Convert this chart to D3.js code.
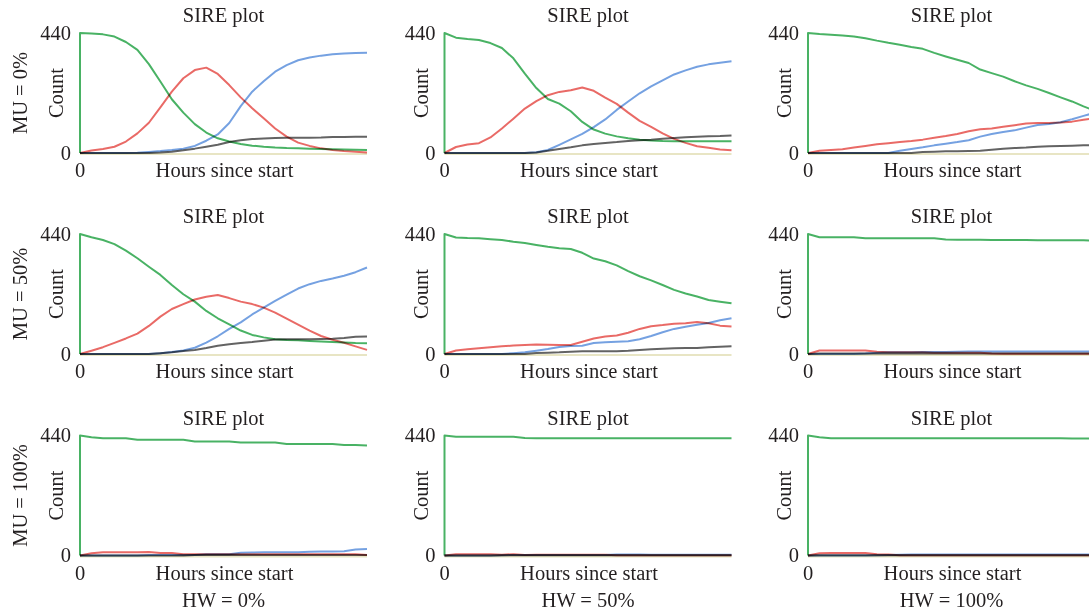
<!DOCTYPE html>
<html>
<head>
<meta charset="utf-8">
<script src="https://cdn.jsdelivr.net/npm/d3@7/dist/d3.min.js"></script>
<style>
  html, body { margin: 0; padding: 0; background: #ffffff; overflow: hidden; }
  svg { display: block; }
  text { font-family: "Liberation Serif", "DejaVu Serif", serif; fill: #231f20; }
  .pen { mix-blend-mode: multiply; }
</style>
</head>
<body>
<svg id="chart" width="1089" height="614"></svg>
<script>
// ---------- data ----------
const hours = [0,4,8,12,16,20,24,28,32,36,40,44,48,52,56,60,64,68,72,76,80,84,88,92,96,100];
const muLabels = ["MU = 0%", "MU = 50%", "MU = 100%"];
const hwLabels = ["HW = 0%", "HW = 50%", "HW = 100%"];
const yTickValues = [0, 440];
const xTickValues = [0];
const seriesNames = ["E", "R", "I", "S"];
const seriesColors = { S: "#3fae5c", I: "#e8625e", R: "#6d9ce0", E: "#5a5a5a" };

// MU = 0%
const S_mu0_hw0 = [440,438,435,427,407,378,326,262,197,148,106,75,54,42,33,27,23,20,18,17,16,15,14,13,12,11];
const I_mu0_hw0 = [0,9,15,23,42,72,111,167,225,274,304,313,290,249,204,164,127,90,60,38,26,17,11,7,5,2];
const R_mu0_hw0 = [0,0,0,0,0,1,4,7,11,16,26,45,68,110,172,225,263,298,322,340,350,357,362,365,367,368];
const E_mu0_hw0 = [0,0,0,0,0,0,0,2,5,10,16,23,30,40,47,51,53,55,56,56,56,57,59,59,60,60];

const S_mu0_hw50 = [440,423,418,414,403,385,347,291,238,198,181,153,114,86,71,61,54,49,46,44,43,43,43,43,43,43];
const I_mu0_hw50 = [0,22,31,36,57,90,126,163,190,212,224,230,240,228,203,180,148,118,96,72,52,37,25,19,13,10];
const R_mu0_hw50 = [0,0,0,0,0,0,0,0,3,11,30,50,70,95,123,158,189,219,244,266,288,303,316,325,331,336];
const E_mu0_hw50 = [0,0,0,0,0,0,0,0,2,8,15,21,28,33,37,40,44,47,49,52,55,58,60,61,62,64];

const S_mu0_hw100 = [440,436,434,431,427,421,412,404,397,389,382,367,354,342,330,306,293,280,263,248,235,220,204,189,171,155];
const I_mu0_hw100 = [0,8,11,14,20,26,32,36,40,44,49,56,62,70,80,87,90,96,102,108,110,110,112,115,122,128];
const R_mu0_hw100 = [0,0,0,0,0,0,0,0,8,15,21,28,34,40,47,60,70,77,83,93,103,106,113,124,136,148];
const E_mu0_hw100 = [0,0,0,0,0,0,0,0,0,0,4,5,6,6,7,8,12,16,18,20,23,25,26,27,28,28];

// MU = 50%
const S_mu50_hw0 = [440,428,418,403,379,351,320,290,253,219,192,158,131,109,86,70,61,54,51,50,48,46,44,42,40,39];
const I_mu50_hw0 = [0,12,25,41,57,75,103,137,165,183,200,210,216,205,192,183,170,152,130,108,86,66,52,41,28,15];
const R_mu50_hw0 = [0,0,0,0,0,0,0,3,7,13,23,42,65,92,116,145,170,195,218,240,256,268,277,287,300,317];
const E_mu50_hw0 = [0,0,0,0,0,0,0,3,6,11,15,22,30,36,40,44,49,53,54,54,54,55,56,59,63,64];

const S_mu50_hw50 = [440,427,425,424,421,418,412,407,400,393,388,385,371,350,340,325,304,285,270,253,235,222,211,198,192,186];
const I_mu50_hw50 = [0,13,17,21,25,28,31,33,35,34,33,33,45,57,64,68,78,92,102,106,111,113,117,113,104,101];
const R_mu50_hw50 = [0,0,0,0,0,0,3,6,12,18,26,29,30,40,43,45,47,54,66,80,92,100,107,114,124,131];
const E_mu50_hw50 = [0,0,0,0,0,0,0,0,4,5,6,8,10,10,10,10,12,15,17,19,21,22,22,25,27,28];

const S_mu50_hw100 = [440,428,428,428,428,424,424,424,424,424,424,424,420,419,419,419,418,418,418,418,417,417,417,417,417,416];
const I_mu50_hw100 = [0,13,13,13,13,13,8,6,6,6,6,5,5,5,5,5,2,1,1,1,1,1,1,1,1,1];
const R_mu50_hw100 = [0,0,0,0,0,2,5,6,6,6,7,7,7,8,9,9,9,9,9,9,9,9,9,9,9,9];
const E_mu50_hw100 = [0,2,2,2,2,2,2,2,2,2,2,2,2,2,2,2,2,2,2,2,2,2,2,2,2,2];

// MU = 100%
const S_mu100_hw0 = [440,434,430,430,430,424,424,424,424,424,418,418,418,418,414,414,414,414,409,409,409,409,409,405,405,403];
const I_mu100_hw0 = [0,8,12,12,12,12,13,9,9,5,5,5,5,5,5,5,5,5,5,5,5,5,5,5,5,2];
const R_mu100_hw0 = [0,0,0,0,0,0,2,2,2,2,2,5,5,5,10,11,12,12,12,12,14,15,15,16,22,24];
const E_mu100_hw0 = [0,0,0,0,0,0,0,0,0,0,2,2,2,2,2,2,2,2,2,2,2,2,2,2,2,2];

const S_mu100_hw50 = [440,435,435,435,435,435,435,431,430,430,430,430,430,430,430,430,430,430,430,430,430,430,430,430,430,430];
const I_mu100_hw50 = [0,5,5,5,5,3,5,2,3,3,3,3,3,3,3,1,1,1,1,1,1,1,1,1,1,1];
const R_mu100_hw50 = [0,0,0,0,0,1,2,2,2,2,2,2,2,2,2,4,4,4,3,3,3,3,3,3,3,3];
const E_mu100_hw50 = [0,0,0,0,0,1,1,1,1,1,1,1,1,1,1,1,1,1,1,1,1,1,1,1,1,1];

const S_mu100_hw100 = [440,434,430,430,430,430,430,430,430,430,430,430,430,430,430,430,430,430,430,430,430,430,430,429,429,429];
const I_mu100_hw100 = [0,8,9,9,9,9,5,4,1,1,1,1,1,1,1,1,1,1,1,1,1,1,1,1,1,1];
const R_mu100_hw100 = [0,0,0,0,0,0,1,2,3,4,4,4,4,4,4,4,4,4,4,4,4,4,4,4,4,4];
const E_mu100_hw100 = [0,1,1,1,1,1,1,1,1,1,1,1,1,1,1,1,1,1,1,1,1,1,1,1,1,1];

const panels = [
  [ {S:S_mu0_hw0, I:I_mu0_hw0, R:R_mu0_hw0, E:E_mu0_hw0},
    {S:S_mu0_hw50, I:I_mu0_hw50, R:R_mu0_hw50, E:E_mu0_hw50},
    {S:S_mu0_hw100, I:I_mu0_hw100, R:R_mu0_hw100, E:E_mu0_hw100} ],
  [ {S:S_mu50_hw0, I:I_mu50_hw0, R:R_mu50_hw0, E:E_mu50_hw0},
    {S:S_mu50_hw50, I:I_mu50_hw50, R:R_mu50_hw50, E:E_mu50_hw50},
    {S:S_mu50_hw100, I:I_mu50_hw100, R:R_mu50_hw100, E:E_mu50_hw100} ],
  [ {S:S_mu100_hw0, I:I_mu100_hw0, R:R_mu100_hw0, E:E_mu100_hw0},
    {S:S_mu100_hw50, I:I_mu100_hw50, R:R_mu100_hw50, E:E_mu100_hw50},
    {S:S_mu100_hw100, I:I_mu100_hw100, R:R_mu100_hw100, E:E_mu100_hw100} ]
];

// ---------- layout ----------
const colX = [80, 444.5, 808];
const rowY = [33, 234, 435.5];
const plotW = 287, plotH = 120;
const fontSize = 20.5;

const svg = d3.select("#chart");

panels.forEach((row, ri) => {
  row.forEach((panel, ci) => {
    const x0 = colX[ci], y0 = rowY[ri];
    const g = svg.append("g").attr("transform", `translate(${x0},${y0})`);
    const x = d3.scaleLinear().domain([0, 100]).range([0, plotW]);
    const y = d3.scaleLinear().domain([0, 440]).range([plotH, 0]);

    // baseline (pale x axis)
    g.append("line")
      .attr("x1", x(0)).attr("x2", x(100))
      .attr("y1", y(0) + 1).attr("y2", y(0) + 1)
      .attr("stroke", "#e8e5c4").attr("stroke-width", 2.2);

    // y ticks
    yTickValues.forEach(v => {
      g.append("text")
        .attr("x", -9).attr("y", y(v))
        .attr("dy", "0.32em")
        .attr("text-anchor", "end")
        .attr("font-size", fontSize)
        .text(v);
    });
    // x ticks
    xTickValues.forEach(v => {
      g.append("text")
        .attr("x", x(v)).attr("y", plotH + 24)
        .attr("text-anchor", "middle")
        .attr("font-size", fontSize)
        .text(v);
    });

    // title
    g.append("text")
      .attr("x", plotW / 2).attr("y", -11)
      .attr("text-anchor", "middle")
      .attr("font-size", fontSize)
      .text("SIRE plot");
    // x label
    g.append("text")
      .attr("x", plotW / 2 + 1).attr("y", plotH + 24)
      .attr("text-anchor", "middle")
      .attr("font-size", fontSize)
      .text("Hours since start");
    // y label
    g.append("text")
      .attr("transform", `translate(-17,${plotH / 2}) rotate(-90)`)
      .attr("text-anchor", "middle")
      .attr("font-size", fontSize)
      .text("Count");

    // lines
    const line = d3.line()
      .x(d => x(d.t))
      .y(d => y(d.v))
      .curve(d3.curveLinear);

    seriesNames.forEach(name => {
      const pts = [{ t: 0, v: 0 }].concat(hours.map((t, i) => ({ t, v: panel[name][i] })));
      g.append("path")
        .attr("class", "pen")
        .attr("d", line(pts))
        .attr("fill", "none")
        .attr("stroke", seriesColors[name])
        .attr("stroke-width", 2)
        .attr("stroke-linejoin", "round")
        .attr("opacity", 0.95);
    });

    // row label
    if (ci === 0) {
      svg.append("text")
        .attr("transform", `translate(${x0 - 53},${y0 + plotH / 2}) rotate(-90)`)
        .attr("text-anchor", "middle")
        .attr("font-size", fontSize)
        .text(muLabels[ri]);
    }
    // column label
    if (ri === 2) {
      svg.append("text")
        .attr("x", x0 + plotW / 2).attr("y", y0 + plotH + 51)
        .attr("text-anchor", "middle")
        .attr("font-size", fontSize)
        .text(hwLabels[ci]);
    }
  });
});
</script>
</body>
</html>
